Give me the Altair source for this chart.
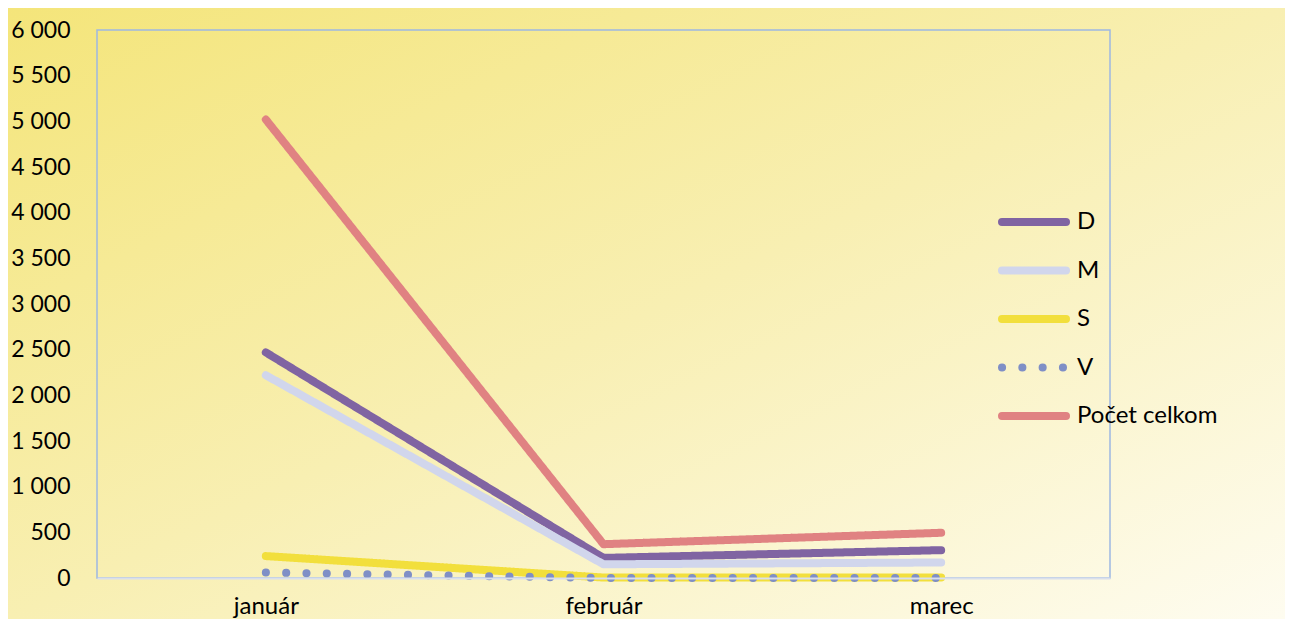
import altair as alt
import pandas as pd

months = ["január", "február", "marec"]
series = ["D", "M", "S", "V", "Počet celkom"]
d_vals = [2470, 220, 305]
m_vals = [2220, 150, 170]
s_vals = [240, 5, 5]
v_vals = [60, 0, 0]
total_vals = [5020, 370, 495]
colors = ["#8064a2", "#d1d6ec", "#f2df3c", "#7f8fc6", "#e08282"]
dashes = [[1, 0], [1, 0], [1, 0], [0.1, 20.2], [1, 0]]
y_ticks = list(range(0, 6001, 500))

rows = []
for name, vals in zip(series, [d_vals, m_vals, s_vals, v_vals, total_vals]):
    for i, (m, v) in enumerate(zip(months, vals)):
        rows.append({"month": m, "value": v, "series": name, "idx": i})
df = pd.DataFrame(rows)

W, H = 1013, 548
PAD = {"left": 89, "top": 22, "right": 175, "bottom": 41}

color_scale = alt.Scale(domain=series, range=colors)
dash_scale = alt.Scale(domain=series, range=dashes)

grad = alt.Gradient(
    gradient="linear",
    stops=[
        alt.GradientStop(color="#f4e57a", offset=0),
        alt.GradientStop(color="#f8efb2", offset=0.5),
        alt.GradientStop(color="#fefcf0", offset=1),
    ],
    x1=0, y1=0, x2=1, y2=1,
)

one = pd.DataFrame({"k": [0]})

bg = alt.Chart(one).mark_rect(fill=grad).encode(
    x=alt.value(-PAD["left"]),
    x2=alt.value(W + PAD["right"]),
    y=alt.value(-PAD["top"]),
    y2=alt.value(H + PAD["bottom"]),
)

border = alt.Chart(one).mark_rect(fillOpacity=0, stroke="#9db8e2", strokeWidth=1.5).encode(
    x=alt.value(0), x2=alt.value(W), y=alt.value(0), y2=alt.value(H),
)

lines = alt.Chart(df).mark_line(strokeWidth=8, strokeCap="round", strokeJoin="round").encode(
    x=alt.X("month:N", sort=months,
            scale=alt.Scale(type="point", padding=0.5),
            axis=alt.Axis(title=None, labelAngle=0, ticks=False, domain=True,
                          domainColor="#d9dfec", domainWidth=2, labelPadding=16,
                          labelFontSize=24, zindex=1)),
    y=alt.Y("value:Q", scale=alt.Scale(domain=[0, 6000], nice=False),
            axis=alt.Axis(title=None, values=y_ticks, grid=False, ticks=False, domain=False,
                          labelPadding=27, labelFontSize=23, zindex=1,
                          labelExpr="replace(format(datum.value, ','), ',', ' ')")),
    color=alt.Color("series:N", scale=color_scale, legend=None),
    strokeDash=alt.StrokeDash("series:N", scale=dash_scale, legend=None),
    order="idx:Q",
)

leg_df = pd.DataFrame({"series": series})
leg_y = alt.Y("series:N", sort=series,
              scale=alt.Scale(type="point", domain=series, range=[192, 386], padding=0),
              axis=None)

leg_lines = alt.Chart(leg_df).mark_rule(strokeWidth=8, strokeCap="round").encode(
    x=alt.value(905), x2=alt.value(969), y=leg_y,
    color=alt.Color("series:N", scale=color_scale, legend=None),
    strokeDash=alt.StrokeDash("series:N", scale=dash_scale, legend=None),
)

leg_text = alt.Chart(leg_df).mark_text(align="left", baseline="middle", fontSize=24,
                                       color="black", font="Lato").encode(
    x=alt.value(980), y=leg_y, text="series:N",
)

chart = alt.layer(bg, border, lines, leg_lines, leg_text).resolve_scale(y="independent").properties(
    width=W, height=H, padding=PAD, autosize=alt.AutoSizeParams(type="none"),
    background="white",
).configure_view(stroke=None).configure_axis(
    labelFont="Lato", labelColor="black"
)

chart.save("out.html", embed_options={"renderer": "svg", "actions": False})
